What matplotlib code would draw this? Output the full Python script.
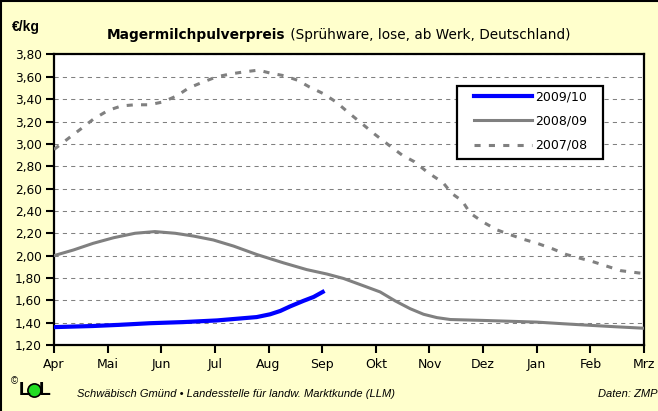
import matplotlib
matplotlib.use("Agg")
import matplotlib.pyplot as plt
from matplotlib.lines import Line2D
from matplotlib.patches import Rectangle

plt.rcParams['font.family'] = ['DejaVu Sans']

# ---- data -----------------------------------------------------------
months = ['Apr', 'Mai', 'Jun', 'Jul', 'Aug', 'Sep', 'Okt', 'Nov', 'Dez', 'Jan', 'Feb', 'Mrz']
yticks = [1.2, 1.4, 1.6, 1.8, 2.0, 2.2, 2.4, 2.6, 2.8, 3.0, 3.2, 3.4, 3.6, 3.8]
ytick_labels = ['1,20', '1,40', '1,60', '1,80', '2,00', '2,20', '2,40', '2,60',
                '2,80', '3,00', '3,20', '3,40', '3,60', '3,80']

# positions in months since 1 April
x_0708 = [0.0, 0.27, 0.49, 0.73, 1.01, 1.26, 1.51, 1.77, 2.03, 2.29, 2.51, 2.76,
          3.03, 3.28, 3.55, 3.81, 4.02, 4.29, 4.54, 4.76, 5.02, 5.26, 5.49, 5.72,
          5.97, 6.24, 6.49, 6.72, 6.98, 7.25, 7.42, 7.61, 7.76, 8.0, 8.26, 8.49,
          8.76, 9.01, 9.30, 9.55, 9.86, 10.02, 10.31, 10.57, 10.9, 11.0]
y_0708 = [2.95, 3.05, 3.13, 3.22, 3.30, 3.34, 3.35, 3.35, 3.375, 3.43, 3.50, 3.55,
          3.60, 3.625, 3.645, 3.66, 3.635, 3.61, 3.57, 3.51, 3.45, 3.375, 3.28, 3.19,
          3.09, 2.99, 2.90, 2.84, 2.74, 2.655, 2.555, 2.49, 2.38, 2.30, 2.23, 2.19,
          2.145, 2.11, 2.06, 2.01, 1.97, 1.95, 1.905, 1.865, 1.845, 1.84]

x_0809 = [0.0, 0.36, 0.73, 1.11, 1.51, 1.88, 2.26, 2.60, 2.97, 3.35, 3.78, 4.28,
          4.71, 5.09, 5.40, 5.77, 6.08, 6.36, 6.64, 6.89, 7.14, 7.39, 8.0, 9.0,
          9.5, 10.0, 10.44, 11.0]
y_0809 = [2.00, 2.05, 2.11, 2.16, 2.20, 2.215, 2.20, 2.175, 2.14, 2.085, 2.01, 1.935,
          1.875, 1.835, 1.795, 1.73, 1.675, 1.595, 1.525, 1.475, 1.445, 1.428, 1.42, 1.405,
          1.39, 1.376, 1.364, 1.35]

x_0910 = [0.0, 0.73, 1.2, 1.79, 2.41, 3.04, 3.41, 3.78, 4.03, 4.22, 4.40, 4.65, 4.84, 5.01]
y_0910 = [1.36, 1.37, 1.38, 1.395, 1.405, 1.42, 1.435, 1.45, 1.475, 1.505, 1.545,
          1.595, 1.63, 1.675]

labels = ['2009/10', '2008/09', '2007/08']

# ---- figure ---------------------------------------------------------
W, H = 658, 411
BG = '#FFFFCC'
fig = plt.figure(figsize=(W / 100, H / 100), dpi=100, facecolor=BG)

def fx(px):
    return px / W

def fy(py):
    return 1 - py / H

ax = fig.add_axes([fx(54), fy(345), fx(644) - fx(54), fy(54.5) - fy(345)])
ax.set_facecolor('white')

ax.plot(x_0708, y_0708, color='#808080', lw=2.2, linestyle=(0, (2, 2.7)),
        dash_capstyle='butt', label=labels[2], zorder=3)
ax.plot(x_0809, y_0809, color='#808080', lw=2.2, label=labels[1], zorder=4)
ax.plot(x_0910, y_0910, color='#0000FF', lw=3.0, label=labels[0], zorder=5)

ax.set_xlim(0, 11)
ax.set_ylim(1.2, 3.8)
ax.set_xticks(range(len(months)))
ax.set_xticklabels(months, fontsize=9)
ax.set_yticks(yticks)
ax.set_yticklabels(ytick_labels, fontsize=8.7)
ax.tick_params(axis='both', direction='out', length=6, width=1.5, color='black')
ax.tick_params(axis='y', pad=3)
ax.tick_params(axis='x', pad=3)
ax.yaxis.grid(True, color='#808080', lw=0.75, linestyle=(0, (4, 4)))
ax.set_axisbelow(True)
for s in ax.spines.values():
    s.set_linewidth(1.6)
    s.set_color('black')

# legend (box drawn separately)
h = ax.get_legend_handles_labels()[0]
order = [2, 1, 0]
leg = fig.legend([h[i] for i in order], labels, loc='upper left',
                 bbox_to_anchor=(fx(474), fy(90)), frameon=False, fontsize=9,
                 borderpad=0, borderaxespad=0, handlelength=4.6,
                 handletextpad=0.25, labelspacing=0.92)
fig.add_artist(Rectangle((fx(456.5), fy(159.5)), fx(603) - fx(456.5), fy(86) - fy(159.5),
                         transform=fig.transFigure, facecolor='white',
                         edgecolor='black', lw=1.6, zorder=2))
leg.set_zorder(5)

# titles
fig.text(fx(12), fy(27), '€/kg', fontsize=10, fontweight='bold', va='center',
         family='Liberation Sans')
t1 = fig.text(fx(107), fy(35), 'Magermilchpulverpreis', fontsize=9.9,
              fontweight='bold', va='center')
fig.add_artist(plt.Annotation(' (Sprühware, lose, ab Werk, Deutschland)',
                              xy=(1, 0.5), xycoords=t1, va='center', fontsize=9.8))

# footer
fig.text(fx(11), fy(381), '©', fontsize=7, va='center', family='Liberation Sans')
fig.text(fx(19), fy(390.5), 'L', fontsize=14, fontweight='bold', va='center',
         family='Liberation Sans')
fig.add_artist(Line2D([fx(33.5)], [fy(390)], marker='o', markersize=9.5,
                      markerfacecolor='#22DD22', markeredgecolor='black',
                      markeredgewidth=1.2, transform=fig.transFigure))
fig.text(fx(39), fy(390.5), 'L', fontsize=14, fontweight='bold', va='center',
         family='Liberation Sans')
fig.text(fx(77), fy(394), 'Schwäbisch Gmünd • Landesstelle für landw. Marktkunde (LLM)',
         fontsize=8, style='italic', va='center', family='Liberation Sans')
fig.text(fx(657), fy(394), 'Daten: ZMP', fontsize=8, style='italic', va='center',
         ha='right', family='Liberation Sans')

# outer border (top and left)
fig.add_artist(Line2D([0, 1], [fy(1.5), fy(1.5)], color='black', lw=1.5,
                      transform=fig.transFigure))
fig.add_artist(Line2D([fx(1), fx(1)], [0, 1], color='black', lw=1.5,
                      transform=fig.transFigure))

fig.savefig('out.png', dpi=100, facecolor=BG)
